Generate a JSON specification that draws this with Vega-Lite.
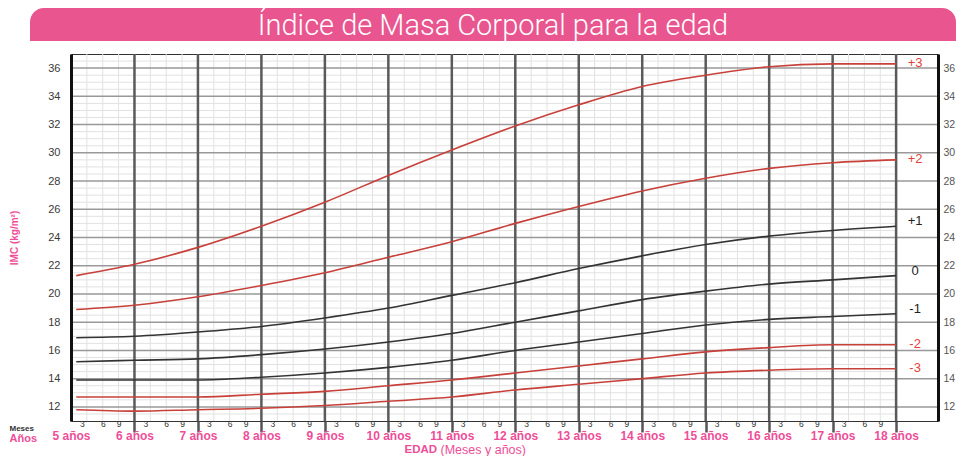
{
  "$schema": "https://vega.github.io/schema/vega-lite/v6.json",
  "padding": {"left": 8, "top": 8, "right": 0, "bottom": 0},
  "background": "white",
  "config": {"view": {"stroke": null}, "font": "Liberation Sans"},
  "columns": 1,
  "spacing": 11,
  "datasets": {
    "minorH": [{"v": 11.5},{"v": 12.5},{"v": 13},{"v": 13.5},{"v": 14.5},{"v": 15},{"v": 15.5},{"v": 16.5},{"v": 17},{"v": 17.5},{"v": 18.5},{"v": 19},{"v": 19.5},{"v": 20.5},{"v": 21},{"v": 21.5},{"v": 22.5},{"v": 23},{"v": 23.5},{"v": 24.5},{"v": 25},{"v": 25.5},{"v": 26.5},{"v": 27},{"v": 27.5},{"v": 28.5},{"v": 29},{"v": 29.5},{"v": 30.5},{"v": 31},{"v": 31.5},{"v": 32.5},{"v": 33},{"v": 33.5},{"v": 34.5},{"v": 35},{"v": 35.5},{"v": 36.5}],
    "minorV": [{"q": 5.25},{"q": 5.5},{"q": 5.75},{"q": 6.25},{"q": 6.5},{"q": 6.75},{"q": 7.25},{"q": 7.5},{"q": 7.75},{"q": 8.25},{"q": 8.5},{"q": 8.75},{"q": 9.25},{"q": 9.5},{"q": 9.75},{"q": 10.25},{"q": 10.5},{"q": 10.75},{"q": 11.25},{"q": 11.5},{"q": 11.75},{"q": 12.25},{"q": 12.5},{"q": 12.75},{"q": 13.25},{"q": 13.5},{"q": 13.75},{"q": 14.25},{"q": 14.5},{"q": 14.75},{"q": 15.25},{"q": 15.5},{"q": 15.75},{"q": 16.25},{"q": 16.5},{"q": 16.75},{"q": 17.25},{"q": 17.5},{"q": 17.75}],
    "majorH": [{"v": 12},{"v": 14},{"v": 16},{"v": 18},{"v": 20},{"v": 22},{"v": 24},{"v": 26},{"v": 28},{"v": 30},{"v": 32},{"v": 34},{"v": 36}],
    "years": [{"yr": 6},{"yr": 7},{"yr": 8},{"yr": 9},{"yr": 10},{"yr": 11},{"yr": 12},{"yr": 13},{"yr": 14},{"yr": 15},{"yr": 16},{"yr": 17},{"yr": 18}],
    "curves": [
      {"z": "+3", "age": 5.083, "bmi": 21.3},{"z": "+3", "age": 6, "bmi": 22.1},{"z": "+3", "age": 7, "bmi": 23.3},{"z": "+3", "age": 8, "bmi": 24.8},{"z": "+3", "age": 9, "bmi": 26.5},{"z": "+3", "age": 10, "bmi": 28.4},{"z": "+3", "age": 11, "bmi": 30.2},{"z": "+3", "age": 12, "bmi": 31.9},{"z": "+3", "age": 13, "bmi": 33.4},{"z": "+3", "age": 14, "bmi": 34.7},{"z": "+3", "age": 15, "bmi": 35.5},{"z": "+3", "age": 16, "bmi": 36.1},{"z": "+3", "age": 17, "bmi": 36.3},{"z": "+3", "age": 18, "bmi": 36.3},
      {"z": "+2", "age": 5.083, "bmi": 18.9},{"z": "+2", "age": 6, "bmi": 19.2},{"z": "+2", "age": 7, "bmi": 19.8},{"z": "+2", "age": 8, "bmi": 20.6},{"z": "+2", "age": 9, "bmi": 21.5},{"z": "+2", "age": 10, "bmi": 22.6},{"z": "+2", "age": 11, "bmi": 23.7},{"z": "+2", "age": 12, "bmi": 25.0},{"z": "+2", "age": 13, "bmi": 26.2},{"z": "+2", "age": 14, "bmi": 27.3},{"z": "+2", "age": 15, "bmi": 28.2},{"z": "+2", "age": 16, "bmi": 28.9},{"z": "+2", "age": 17, "bmi": 29.3},{"z": "+2", "age": 18, "bmi": 29.5},
      {"z": "+1", "age": 5.083, "bmi": 16.9},{"z": "+1", "age": 6, "bmi": 17.0},{"z": "+1", "age": 7, "bmi": 17.3},{"z": "+1", "age": 8, "bmi": 17.7},{"z": "+1", "age": 9, "bmi": 18.3},{"z": "+1", "age": 10, "bmi": 19.0},{"z": "+1", "age": 11, "bmi": 19.9},{"z": "+1", "age": 12, "bmi": 20.8},{"z": "+1", "age": 13, "bmi": 21.8},{"z": "+1", "age": 14, "bmi": 22.7},{"z": "+1", "age": 15, "bmi": 23.5},{"z": "+1", "age": 16, "bmi": 24.1},{"z": "+1", "age": 17, "bmi": 24.5},{"z": "+1", "age": 18, "bmi": 24.8},
      {"z": "0", "age": 5.083, "bmi": 15.2},{"z": "0", "age": 6, "bmi": 15.3},{"z": "0", "age": 7, "bmi": 15.4},{"z": "0", "age": 8, "bmi": 15.7},{"z": "0", "age": 9, "bmi": 16.1},{"z": "0", "age": 10, "bmi": 16.6},{"z": "0", "age": 11, "bmi": 17.2},{"z": "0", "age": 12, "bmi": 18.0},{"z": "0", "age": 13, "bmi": 18.8},{"z": "0", "age": 14, "bmi": 19.6},{"z": "0", "age": 15, "bmi": 20.2},{"z": "0", "age": 16, "bmi": 20.7},{"z": "0", "age": 17, "bmi": 21.0},{"z": "0", "age": 18, "bmi": 21.3},
      {"z": "-1", "age": 5.083, "bmi": 13.9},{"z": "-1", "age": 6, "bmi": 13.9},{"z": "-1", "age": 7, "bmi": 13.9},{"z": "-1", "age": 8, "bmi": 14.1},{"z": "-1", "age": 9, "bmi": 14.4},{"z": "-1", "age": 10, "bmi": 14.8},{"z": "-1", "age": 11, "bmi": 15.3},{"z": "-1", "age": 12, "bmi": 16.0},{"z": "-1", "age": 13, "bmi": 16.6},{"z": "-1", "age": 14, "bmi": 17.2},{"z": "-1", "age": 15, "bmi": 17.8},{"z": "-1", "age": 16, "bmi": 18.2},{"z": "-1", "age": 17, "bmi": 18.4},{"z": "-1", "age": 18, "bmi": 18.6},
      {"z": "-2", "age": 5.083, "bmi": 12.7},{"z": "-2", "age": 6, "bmi": 12.7},{"z": "-2", "age": 7, "bmi": 12.7},{"z": "-2", "age": 8, "bmi": 12.9},{"z": "-2", "age": 9, "bmi": 13.1},{"z": "-2", "age": 10, "bmi": 13.5},{"z": "-2", "age": 11, "bmi": 13.9},{"z": "-2", "age": 12, "bmi": 14.4},{"z": "-2", "age": 13, "bmi": 14.9},{"z": "-2", "age": 14, "bmi": 15.4},{"z": "-2", "age": 15, "bmi": 15.9},{"z": "-2", "age": 16, "bmi": 16.2},{"z": "-2", "age": 17, "bmi": 16.4},{"z": "-2", "age": 18, "bmi": 16.4},
      {"z": "-3", "age": 5.083, "bmi": 11.8},{"z": "-3", "age": 6, "bmi": 11.7},{"z": "-3", "age": 7, "bmi": 11.8},{"z": "-3", "age": 8, "bmi": 11.9},{"z": "-3", "age": 9, "bmi": 12.1},{"z": "-3", "age": 10, "bmi": 12.4},{"z": "-3", "age": 11, "bmi": 12.7},{"z": "-3", "age": 12, "bmi": 13.2},{"z": "-3", "age": 13, "bmi": 13.6},{"z": "-3", "age": 14, "bmi": 14.0},{"z": "-3", "age": 15, "bmi": 14.4},{"z": "-3", "age": 16, "bmi": 14.6},{"z": "-3", "age": 17, "bmi": 14.7},{"z": "-3", "age": 18, "bmi": 14.7}
    ]
  },
  "concat": [
    {
      "width": 885, "height": 33,
      "data": {"values": [{"t": "Índice de Masa Corporal para la edad", "a": 0, "b": 1, "m": 0.5}]},
      "layer": [
        {"mark": {"type": "rect", "color": "#E9558F", "cornerRadiusTopLeft": 14, "cornerRadiusTopRight": 14},
         "encoding": {
           "x": {"field": "a", "type": "quantitative", "scale": {"domain": [0, 1], "nice": false, "range": [-41, 885]}, "axis": null},
           "x2": {"field": "b"},
           "y": {"field": "a", "type": "quantitative", "scale": {"domain": [0, 1], "nice": false}, "axis": null},
           "y2": {"field": "b"}
         }},
        {"mark": {"type": "text", "color": "white", "font": "Roboto", "fontWeight": 300, "fontSize": 29, "baseline": "middle", "align": "center", "dy": 1},
         "encoding": {
           "x": {"field": "m", "type": "quantitative", "axis": null},
           "y": {"field": "m", "type": "quantitative", "axis": null},
           "text": {"field": "t"}
         }}
      ]
    },
    {
      "width": 867, "height": 367,
      "view": {"stroke": "#333", "strokeWidth": 1},
      "resolve": {"axis": {"x": "independent", "y": "independent"}},
      "layer": [
        {
          "data": {"name": "minorH"},
          "mark": {"type": "rule", "color": "#e2e2e2", "strokeWidth": 1},
          "encoding": {
            "y": {"field": "v", "type": "quantitative", "scale": {"domain": [11, 37], "nice": false, "zero": false}, "axis": null},
            "x": {"datum": 5, "type": "quantitative", "scale": {"domain": [5, 18.66], "nice": false, "zero": false},
                  "axis": {"orient": "bottom", "labels": false, "ticks": false, "domain": false, "grid": false, "title": "(Meses y años)", "titleColor": "#EE4E98", "titleFontSize": 12.5, "titleFontWeight": "normal", "titleX": 369, "titleY": 28, "titleAlign": "left", "titleBaseline": "middle"}},
            "x2": {"datum": 18}
          }
        },
        {
          "data": {"name": "minorV"},
          "mark": {"type": "rule", "color": "#e2e2e2", "strokeWidth": 1},
          "encoding": {
            "x": {"field": "q", "type": "quantitative",
                  "axis": {"orient": "bottom", "values": [5.25,5.5,5.75,6.25,6.5,6.75,7.25,7.5,7.75,8.25,8.5,8.75,9.25,9.5,9.75,10.25,10.5,10.75,11.25,11.5,11.75,12.25,12.5,12.75,13.25,13.5,13.75,14.25,14.5,14.75,15.25,15.5,15.75,16.25,16.5,16.75,17.25,17.5,17.75],
                           "labelExpr": "round((datum.value - floor(datum.value)) * 12)",
                           "labelOffset": {"condition": {"test": "round((datum.value - floor(datum.value)) * 12) == 3", "value": -5}, "value": 0},
                           "labelFontSize": 8.5, "labelColor": "#333", "labelPadding": -2, "labelFlush": false, "labelOverlap": false,
                           "ticks": false, "domain": false, "grid": false,
                           "title": "Meses", "titleFontSize": 8, "titleColor": "#333", "titleFontWeight": "bold", "titleX": -62, "titleY": 7, "titleAlign": "left", "titleBaseline": "middle"}},
            "y": {"datum": 11, "type": "quantitative", "axis": null},
            "y2": {"datum": 37}
          }
        },
        {
          "data": {"name": "majorH"},
          "mark": {"type": "rule", "color": "#999", "strokeWidth": 1.5},
          "encoding": {
            "y": {"field": "v", "type": "quantitative",
                  "axis": {"values": [12,14,16,18,20,22,24,26,28,30,32,34,36], "orient": "left", "zindex": 1,
                           "labelFontSize": 11, "labelColor": "#3a3a3a", "labelPadding": 11, "labelFlush": false,
                           "ticks": false, "grid": false, "domainColor": "#111", "domainWidth": 3,
                           "title": "IMC (kg/m²)", "titleColor": "#EE4E98", "titleFontSize": 10, "titleFontWeight": "bold", "titleX": -57, "titleBaseline": "middle"}},
            "x": {"datum": 5, "type": "quantitative", "axis": null},
            "x2": {"datum": 18.66}
          }
        },
        {
          "data": {"name": "years"},
          "mark": {"type": "rule", "color": "#5a5a5a", "strokeWidth": 2.5},
          "encoding": {
            "x": {"field": "yr", "type": "quantitative",
                  "axis": {"orient": "bottom", "values": [5,6,7,8,9,10,11,12,13,14,15,16,17,18],
                           "labelExpr": "datum.value + ' años'",
                           "labelFontSize": 12, "labelFontWeight": "bold", "labelColor": "#EE4E98", "labelPadding": -1.5, "labelFlush": false, "labelOverlap": false,
                           "ticks": true, "tickSize": 11, "tickWidth": 2.5, "tickColor": "#555",
                           "tickOpacity": {"condition": {"test": "datum.value == 5", "value": 0}, "value": 1},
                           "domain": false, "grid": false,
                           "title": "Años", "titleFontSize": 11, "titleColor": "#EE4E98", "titleFontWeight": "bold", "titleX": -62, "titleY": 17.5, "titleAlign": "left", "titleBaseline": "middle"}},
            "y": {"datum": 11, "type": "quantitative", "axis": null},
            "y2": {"datum": 37}
          }
        },
        {
          "data": {"name": "curves"},
          "mark": {"type": "line", "interpolate": "monotone"},
          "encoding": {
            "x": {"field": "age", "type": "quantitative",
                  "axis": {"orient": "bottom", "labels": false, "ticks": false, "domain": false, "grid": false, "title": "EDAD", "titleColor": "#EE4E98", "titleFontSize": 11.5, "titleFontWeight": "bold", "titleX": 333, "titleY": 28, "titleAlign": "left", "titleBaseline": "middle"}},
            "y": {"field": "bmi", "type": "quantitative",
                  "axis": {"orient": "right", "values": [12,14,16,18,20,22,24,26,28,30,32,34,36], "zindex": 1,
                           "labelFontSize": 10.5, "labelColor": "#555", "labelPadding": 5, "labelFlush": false,
                           "ticks": false, "grid": false, "domainColor": "#111", "domainWidth": 3, "title": null}},
            "color": {"field": "z", "type": "nominal", "scale": {"domain": ["+3","+2","+1","0","-1","-2","-3"], "range": ["#c8403a","#c8403a","#333333","#333333","#333333","#c8403a","#c8403a"]}, "legend": null},
            "strokeWidth": {"field": "z", "type": "nominal", "scale": {"domain": ["+3","+2","+1","0","-1","-2","-3"], "range": [1.6,1.6,1.1,1.1,1.1,1.6,1.6]}, "legend": null}
          }
        },
        {
          "data": {"name": "curves"},
          "transform": [{"filter": "datum.age == 18 && (datum.z == '+3' || datum.z == '+2' || datum.z == '-2' || datum.z == '-3')"}],
          "mark": {"type": "text", "fontSize": 13, "align": "center", "baseline": "middle", "dy": -1, "fill": "#e5423a"},
          "encoding": {
            "x": {"datum": 18.3, "type": "quantitative", "axis": null},
            "y": {"field": "bmi", "type": "quantitative", "axis": null},
            "text": {"field": "z"}
          }
        },
        {
          "data": {"name": "curves"},
          "transform": [{"filter": "datum.age == 18 && (datum.z == '+1' || datum.z == '0' || datum.z == '-1')"}],
          "mark": {"type": "text", "fontSize": 13, "align": "center", "baseline": "middle", "dy": -5, "fill": "#222"},
          "encoding": {
            "x": {"datum": 18.3, "type": "quantitative", "axis": null},
            "y": {"field": "bmi", "type": "quantitative", "axis": null},
            "text": {"field": "z"}
          }
        }
      ]
    }
  ]
}
